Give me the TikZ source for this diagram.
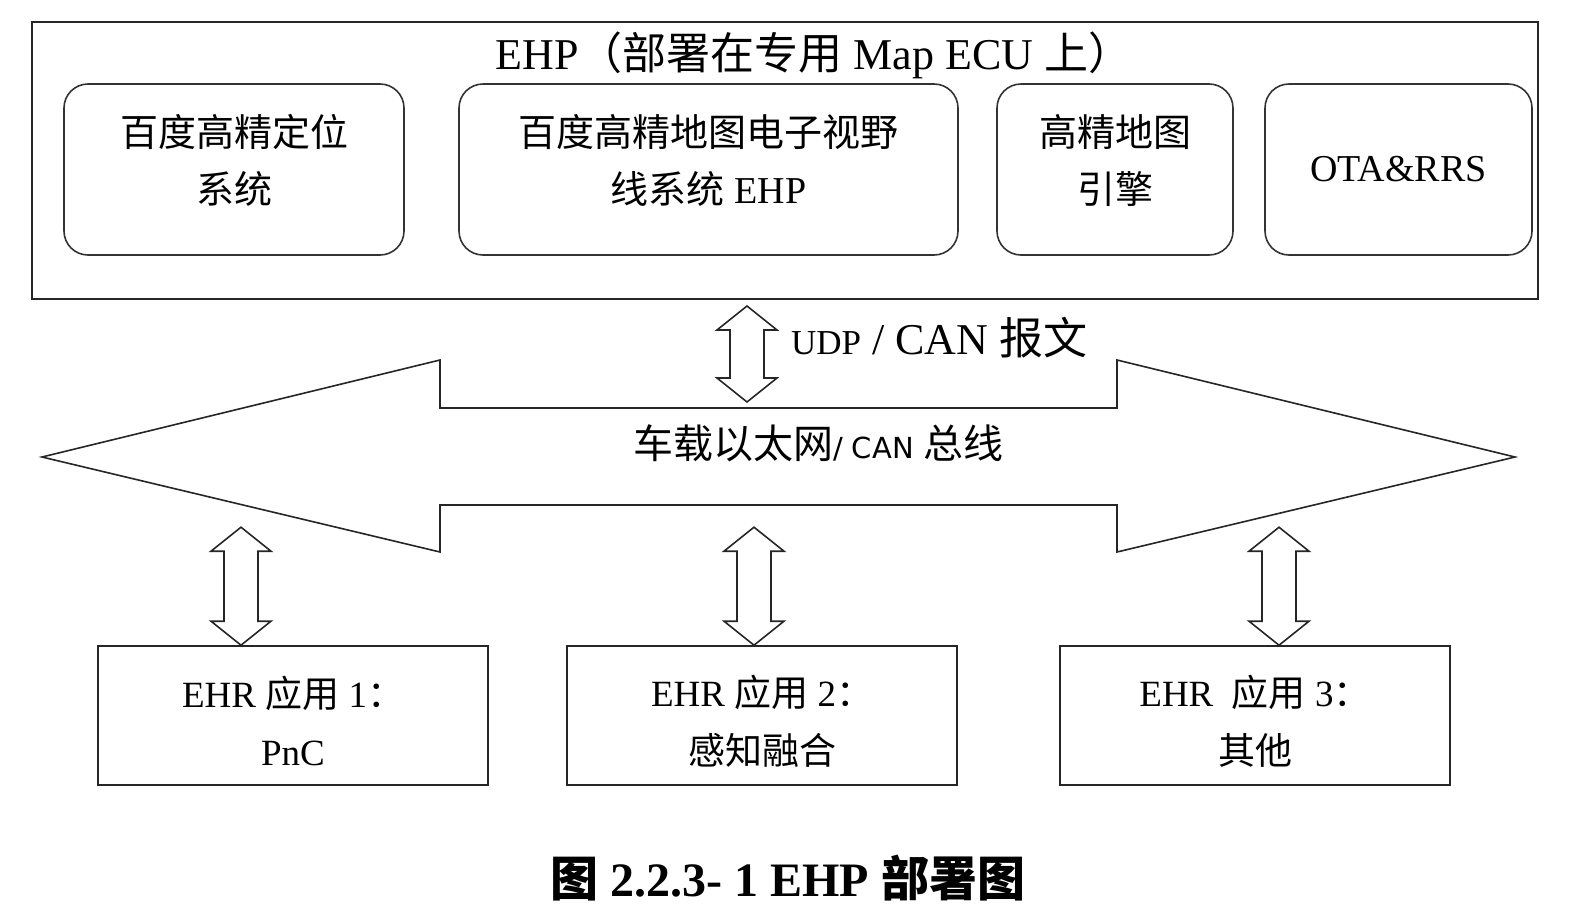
\documentclass[tikz,border=0pt]{standalone}
\usepackage{fontspec}
\setmainfont{Liberation Serif}
\newfontfamily\cjk{Noto Sans CJK SC}
\newfontfamily\busfont{DejaVu Sans}
\newcommand\zh[1]{{\cjk #1}}
\usetikzlibrary{calc}
\tikzset{
    outer/.style={draw=black!85, line width=0.9pt},
    module/.style={draw=black!80, line width=0.8pt, rounded corners=12pt, minimum height=85.5pt, align=center, font=\fontsize{19}{28.5}\selectfont},
    app/.style={draw=black!85, line width=0.8pt, minimum width=195pt, minimum height=69.5pt, text height=50pt, align=center, font=\fontsize{18.5}{29}\selectfont},
    block/.style={draw=black!85, line width=0.8pt, fill=white},
    pics/updown/.style={code={
        \draw [block] (0,0) -- (30,-24) -- (17,-24) -- (17,{24-#1}) -- (30,{24-#1})
          -- (0,{-#1}) -- (-30,{24-#1}) -- (-17,{24-#1}) -- (-17,-24) -- (-30,-24) -- cycle;
    }}
}

\begin{document}
\begin{tikzpicture}
  [
    x                       = 0.5pt,
    y                       = -0.5pt,
  ]
  \useasboundingbox (0,0) rectangle (1572,916);
  \node [outer, minimum width=753pt, minimum height=138.5pt] (ecu) at (785,160.5) {};
  \node [font=\fontsize{22}{26}\selectfont] (ecutitle) at (814,55) {EHP\zh{（部署在专用} Map ECU \zh{上）}};
  \node [module, minimum width=170pt, text depth=10.5pt] (loc) at (234,169.5) {\zh{百度高精定位}\\\zh{系统}};
  \node [module, minimum width=249.5pt, text depth=10.5pt] (horizon) at (708.5,169.5) {\zh{百度高精地图电子视野}\\\zh{线系统} EHP};
  \node [module, minimum width=118pt, text depth=10.5pt] (engine) at (1115,169.5) {\zh{高精地图}\\\zh{引擎}};
  \node [module, minimum width=133.5pt] (ota) at (1398.5,169.5) {OTA\&RRS};

  \draw [block] (42,457) -- (440,360) -- (440,408) -- (1117,408) -- (1117,360) -- (1515,457)
    -- (1117,552) -- (1117,505) -- (440,505) -- (440,552) -- cycle;
  \node [font=\fontsize{20}{22}\selectfont] (bus) at (818,443) {\zh{车载以太网}{\busfont\fontsize{14.5}{16}\selectfont/ CAN }\zh{总线}};

  \pic at (747,402) {updown=96};
  \node [anchor=base west, font=\fontsize{22}{24}\selectfont] (udp) at (784,354) {{\fontsize{17.5}{20}\selectfont UDP} / CAN \zh{报文}};

  \node [app] (app1) at (293,715.5) {EHR \zh{应用} 1\zh{：}\\PnC};
  \node [app] (app2) at (762,715.5) {EHR \zh{应用} 2\zh{：}\\\zh{感知融合}};
  \node [app] (app3) at (1255,715.5) {EHR\ \ \zh{应用} 3\zh{：}\\\zh{其他}};
  \foreach \x/\b in {241/app1, 754/app2, 1279/app3}
    \pic at (\x,0 |- \b.north) {updown=118};

  \node [font=\bfseries\fontsize{24}{28}\selectfont] (caption) at (788,878) {\zh{图}\ 2.2.3- 1 EHP \zh{部署图}};
\end{tikzpicture}
\end{document}
